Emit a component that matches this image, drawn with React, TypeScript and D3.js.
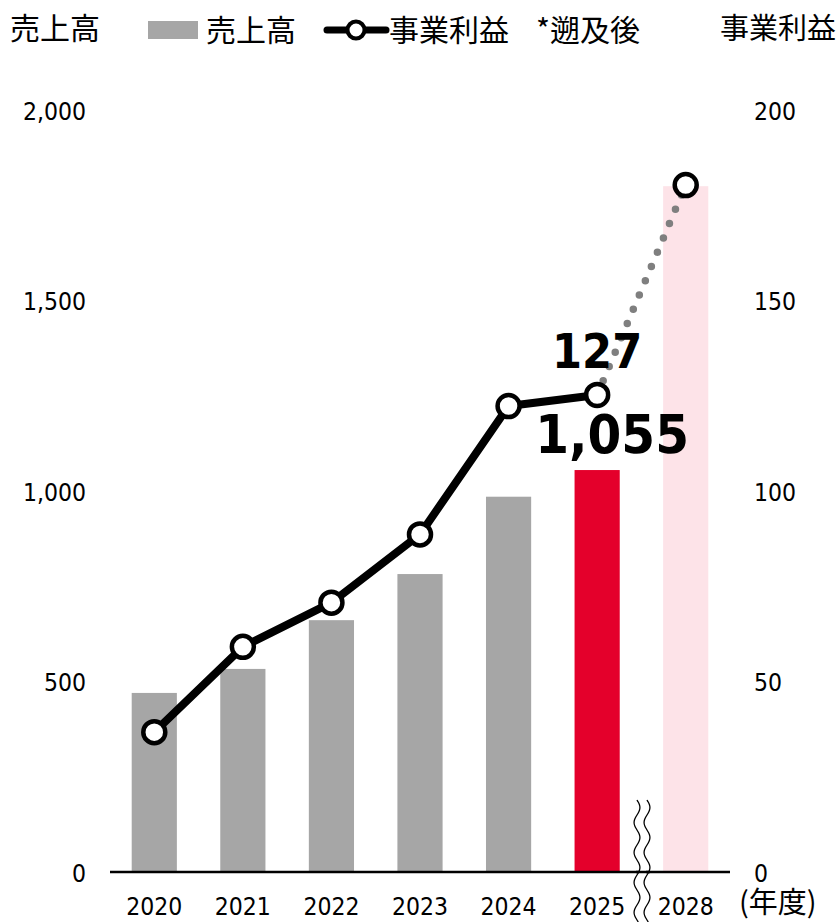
import React from "react";
import * as d3 from "d3";

const years = ["2020", "2021", "2022", "2023", "2024", "2025", "2028"];
const sales = [470, 533, 661, 782, 985, 1055, 1800];
const profit = [36.7, 59.1, 70.7, 88.6, 122.3, 125.2, 180.3];
const leftTicks = [0, 500, 1000, 1500, 2000];
const rightTicks = [0, 50, 100, 150, 200];
const profitLabel = "127";
const salesLabel = "1,055";

const W = 840;
const H = 922;
const NUM_FONT = "'DejaVu Sans Condensed', 'DejaVu Sans', Verdana, sans-serif";
const CJK_FONT = "'Noto Sans CJK JP', 'Noto Sans', sans-serif";

export default function App() {
  const x = d3.scaleBand().domain(years).range([110, 730]).paddingInner(0.49).paddingOuter(0.245);
  const yL = d3.scaleLinear().domain([0, 2000]).range([872, 110]);
  const yR = d3.scaleLinear().domain([0, 200]).range([872, 110]);
  const cx = (y: string) => (x(y) as number) + x.bandwidth() / 2;

  const barColor = (i: number) => (i === 5 ? "#E4002B" : i === 6 ? "#FDE3E8" : "#A6A6A6");

  const solidPts = years.slice(0, 6).map((yr, i) => [cx(yr), yR(profit[i])] as [number, number]);
  const dotPts = [5, 6].map((i) => [cx(years[i]), yR(profit[i])] as [number, number]);
  const line = d3.line();

  // break squiggles
  const wave = (x0: number) => {
    const pts: [number, number][] = [];
    for (let yy = 800; yy <= 922; yy += 2) {
      pts.push([x0 + 3 * Math.sin(((yy - 800) / 30) * Math.PI * 2), yy]);
    }
    return d3.line().curve(d3.curveBasis)(pts) as string;
  };

  return (
    <svg width={W} height={H} style={{ position: "absolute", left: 0, top: 0, background: "#fff" }}>
      {/* titles */}
      <text x={10} y={39} fontFamily={CJK_FONT} fontSize={30} fill="#000">売上高</text>
      <text x={836} y={39} fontFamily={CJK_FONT} fontSize={29} fill="#000" textAnchor="end">事業利益</text>
      {/* legend */}
      <rect x={148} y={21} width={50} height={18} fill="#A6A6A6" />
      <text x={206} y={41} fontFamily={CJK_FONT} fontSize={30} fill="#000">売上高</text>
      <line x1={327} x2={386} y1={30} y2={30} stroke="#000" strokeWidth={7} strokeLinecap="round" />
      <circle cx={356} cy={30} r={8.5} fill="#fff" stroke="#000" strokeWidth={4} />
      <text x={389} y={41} fontFamily={CJK_FONT} fontSize={30} fill="#000">事業利益</text>
      <text x={640} y={41} fontFamily={CJK_FONT} fontSize={30} fill="#000" textAnchor="end">*遡及後</text>

      {/* bars */}
      {years.map((yr, i) => (
        <rect key={yr} x={x(yr)} y={yL(sales[i])} width={x.bandwidth()} height={yL(0) - yL(sales[i])} fill={barColor(i)} />
      ))}

      {/* axis baseline */}
      <line x1={110} x2={730} y1={yL(0)} y2={yL(0)} stroke="#000" strokeWidth={2.5} />

      {/* left ticks */}
      {leftTicks.map((t) => (
        <text key={t} x={86} y={yL(t) + 9.5} textAnchor="end" fontFamily={NUM_FONT} fontSize={24.5} fill="#000">
          {d3.format(",")(t)}
        </text>
      ))}
      {/* right ticks */}
      {rightTicks.map((t) => (
        <text key={t} x={754} y={yR(t) + 9.5} textAnchor="start" fontFamily={NUM_FONT} fontSize={24.5} fill="#000">
          {t}
        </text>
      ))}
      {/* x labels */}
      {years.map((yr) => (
        <text key={yr} x={cx(yr)} y={915} textAnchor="middle" fontFamily={NUM_FONT} fontSize={24.5} fill="#000">
          {yr}
        </text>
      ))}
      <text x={739} y={913} textAnchor="start" fontFamily={CJK_FONT} fontSize={29} fill="#000">(年度)</text>

      {/* break marks */}
      <rect x={639} y={800} width={7} height={122} fill="#fff" />
      <line x1={636} x2={650} y1={yL(0)} y2={yL(0)} stroke="#000" strokeWidth={2.5} />
      <path d={wave(637)} fill="none" stroke="#000" strokeWidth={1.3} />
      <path d={wave(647)} fill="none" stroke="#000" strokeWidth={1.3} />

      {/* profit dotted projection */}
      <path d={line(dotPts) as string} fill="none" stroke="#7F7F7F" strokeWidth={7.5} strokeLinecap="round" strokeDasharray="0 15.5" />
      {/* profit line */}
      <path d={line(solidPts) as string} fill="none" stroke="#000" strokeWidth={8} strokeLinejoin="round" />
      {years.map((yr, i) => (
        <circle key={yr} cx={cx(yr)} cy={yR(profit[i])} r={11} fill="#fff" stroke="#000" strokeWidth={4.5} />
      ))}

      {/* data labels */}
      <text x={cx("2025")} y={368} textAnchor="middle" fontFamily={NUM_FONT} fontWeight="bold" fontSize={48} fill="#000">
        {profitLabel}
      </text>
      <text x={cx("2025") + 15} y={453} textAnchor="middle" fontFamily={NUM_FONT} fontWeight="bold" fontSize={54} fill="#000">
        {salesLabel}
      </text>
    </svg>
  );
}
